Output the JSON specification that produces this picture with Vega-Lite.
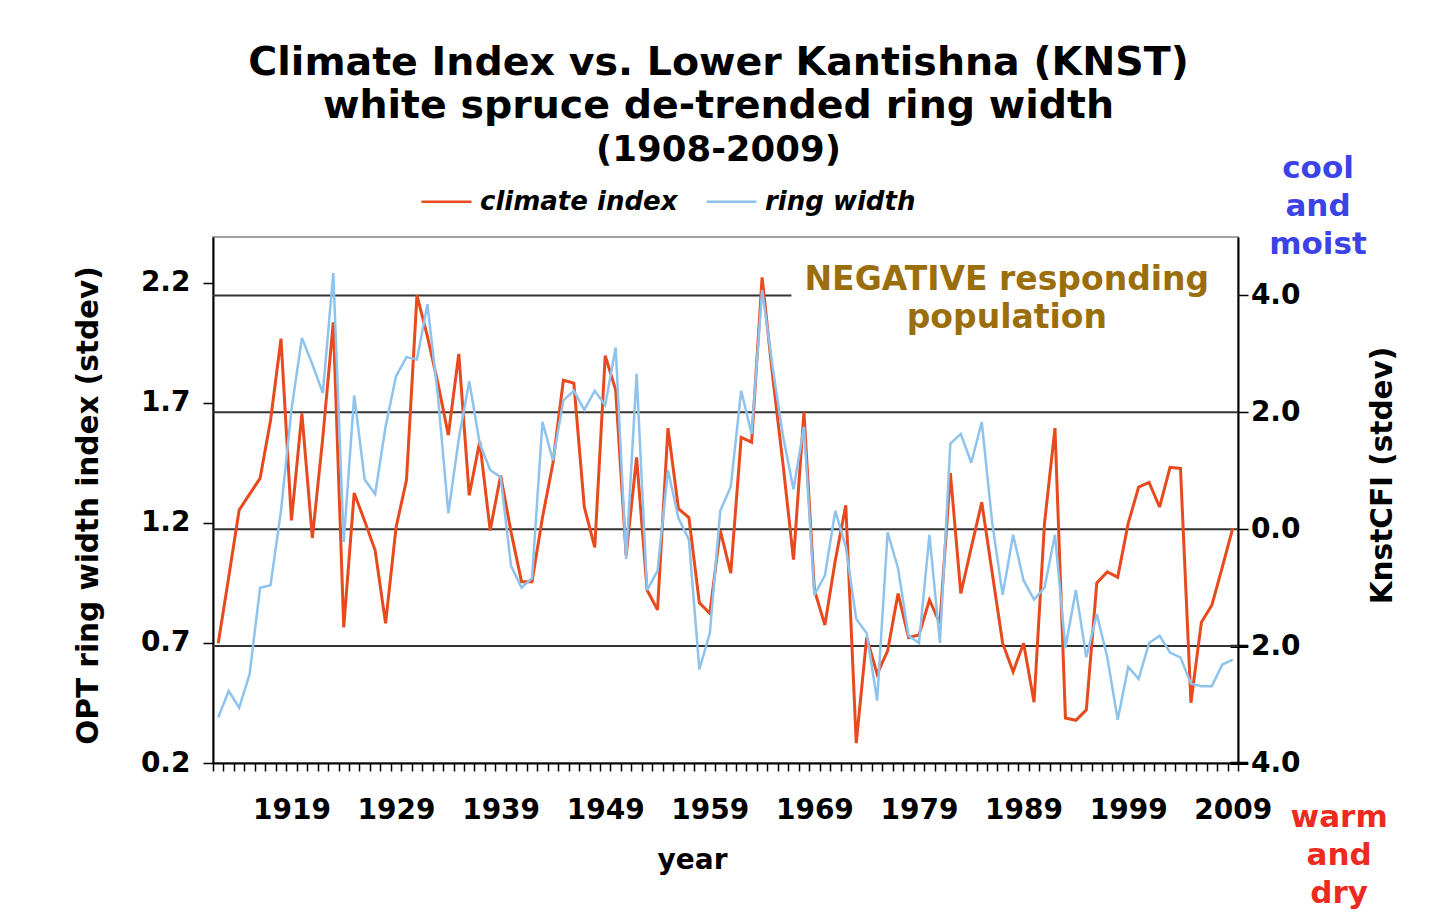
{
  "$schema": "https://vega.github.io/schema/vega-lite/v6.json",
  "width": 1025,
  "height": 526,
  "autosize": {"type": "none"},
  "padding": {"left": 213, "top": 237, "right": 214, "bottom": 160},
  "background": "white",
  "title": {
    "text": ["Climate Index vs. Lower Kantishna (KNST)", "white spruce de-trended ring width"],
    "subtitle": "(1908-2009)",
    "font": "DejaVu Sans",
    "fontSize": 39.5,
    "fontWeight": "bold",
    "lineHeight": 43,
    "color": "black",
    "subtitleFont": "DejaVu Sans",
    "subtitleFontSize": 35.5,
    "subtitleFontWeight": "bold",
    "subtitleColor": "black",
    "subtitlePadding": 7,
    "anchor": "middle",
    "dx": -7,
    "offset": -17
  },
  "config": {
    "view": {"stroke": "#a0a0a0", "strokeWidth": 2},
    "font": "DejaVu Sans",
    "axis": {
      "domainColor": "black",
      "domainWidth": 2,
      "tickColor": "black",
      "tickWidth": 1.5,
      "labelColor": "black",
      "titleColor": "black",
      "labelFont": "DejaVu Sans",
      "titleFont": "DejaVu Sans",
      "labelFontWeight": "bold",
      "titleFontWeight": "bold",
      "labelFontSize": 28,
      "titleFontSize": 29.5,
      "grid": false
    },
    "legend": {
      "labelFont": "DejaVu Sans",
      "labelFontSize": 26,
      "labelFontWeight": "bold",
      "labelFontStyle": "italic",
      "labelColor": "black",
      "labelLimit": 400
    }
  },
  "data": {
    "values": [
      {"year": 1912, "climate": -1.95, "ring": 0.39},
      {"year": 1913, "climate": -0.82, "ring": 0.50},
      {"year": 1914, "climate": 0.33, "ring": 0.43},
      {"year": 1915, "climate": 0.60, "ring": 0.57},
      {"year": 1916, "climate": 0.87, "ring": 0.93},
      {"year": 1917, "climate": 1.86, "ring": 0.94},
      {"year": 1918, "climate": 3.26, "ring": 1.25},
      {"year": 1919, "climate": 0.15, "ring": 1.67},
      {"year": 1920, "climate": 1.98, "ring": 1.97},
      {"year": 1921, "climate": -0.15, "ring": 1.86},
      {"year": 1922, "climate": 1.57, "ring": 1.74},
      {"year": 1923, "climate": 3.54, "ring": 2.24},
      {"year": 1924, "climate": -1.68, "ring": 1.12},
      {"year": 1925, "climate": 0.62, "ring": 1.73},
      {"year": 1926, "climate": 0.14, "ring": 1.38},
      {"year": 1927, "climate": -0.36, "ring": 1.32},
      {"year": 1928, "climate": -1.61, "ring": 1.60},
      {"year": 1929, "climate": 0.03, "ring": 1.81},
      {"year": 1930, "climate": 0.84, "ring": 1.89},
      {"year": 1931, "climate": 4.00, "ring": 1.88},
      {"year": 1932, "climate": 3.30, "ring": 2.11},
      {"year": 1933, "climate": 2.50, "ring": 1.73},
      {"year": 1934, "climate": 1.61, "ring": 1.24},
      {"year": 1935, "climate": 3.00, "ring": 1.55},
      {"year": 1936, "climate": 0.58, "ring": 1.79},
      {"year": 1937, "climate": 1.50, "ring": 1.53},
      {"year": 1938, "climate": -0.02, "ring": 1.42},
      {"year": 1939, "climate": 0.92, "ring": 1.39},
      {"year": 1940, "climate": -0.05, "ring": 1.02},
      {"year": 1941, "climate": -0.90, "ring": 0.93},
      {"year": 1942, "climate": -0.90, "ring": 0.97},
      {"year": 1943, "climate": 0.20, "ring": 1.62},
      {"year": 1944, "climate": 1.13, "ring": 1.46},
      {"year": 1945, "climate": 2.55, "ring": 1.71},
      {"year": 1946, "climate": 2.50, "ring": 1.75},
      {"year": 1947, "climate": 0.38, "ring": 1.67},
      {"year": 1948, "climate": -0.31, "ring": 1.75},
      {"year": 1949, "climate": 2.97, "ring": 1.69},
      {"year": 1950, "climate": 2.38, "ring": 1.93},
      {"year": 1951, "climate": -0.45, "ring": 1.05},
      {"year": 1952, "climate": 1.23, "ring": 1.82},
      {"year": 1953, "climate": -1.04, "ring": 0.92},
      {"year": 1954, "climate": -1.38, "ring": 1.00},
      {"year": 1955, "climate": 1.73, "ring": 1.42},
      {"year": 1956, "climate": 0.35, "ring": 1.22},
      {"year": 1957, "climate": 0.20, "ring": 1.13},
      {"year": 1958, "climate": -1.26, "ring": 0.59},
      {"year": 1959, "climate": -1.44, "ring": 0.74},
      {"year": 1960, "climate": -0.02, "ring": 1.25},
      {"year": 1961, "climate": -0.75, "ring": 1.35},
      {"year": 1962, "climate": 1.57, "ring": 1.75},
      {"year": 1963, "climate": 1.49, "ring": 1.57},
      {"year": 1964, "climate": 4.31, "ring": 2.17},
      {"year": 1965, "climate": 2.63, "ring": 1.85},
      {"year": 1966, "climate": 1.11, "ring": 1.56},
      {"year": 1967, "climate": -0.52, "ring": 1.34},
      {"year": 1968, "climate": 2.00, "ring": 1.60},
      {"year": 1969, "climate": -1.04, "ring": 0.90},
      {"year": 1970, "climate": -1.64, "ring": 0.98},
      {"year": 1971, "climate": -0.53, "ring": 1.25},
      {"year": 1972, "climate": 0.41, "ring": 1.10},
      {"year": 1973, "climate": -3.66, "ring": 0.80},
      {"year": 1974, "climate": -1.85, "ring": 0.74},
      {"year": 1975, "climate": -2.48, "ring": 0.46},
      {"year": 1976, "climate": -2.08, "ring": 1.16},
      {"year": 1977, "climate": -1.10, "ring": 1.01},
      {"year": 1978, "climate": -1.85, "ring": 0.73},
      {"year": 1979, "climate": -1.81, "ring": 0.70},
      {"year": 1980, "climate": -1.21, "ring": 1.15},
      {"year": 1981, "climate": -1.61, "ring": 0.70},
      {"year": 1982, "climate": 0.96, "ring": 1.53},
      {"year": 1983, "climate": -1.10, "ring": 1.57},
      {"year": 1984, "climate": -0.31, "ring": 1.45},
      {"year": 1985, "climate": 0.46, "ring": 1.62},
      {"year": 1986, "climate": -0.75, "ring": 1.20},
      {"year": 1987, "climate": -1.95, "ring": 0.90},
      {"year": 1988, "climate": -2.44, "ring": 1.15},
      {"year": 1989, "climate": -1.95, "ring": 0.96},
      {"year": 1990, "climate": -2.96, "ring": 0.88},
      {"year": 1991, "climate": 0.10, "ring": 0.93},
      {"year": 1992, "climate": 1.73, "ring": 1.15},
      {"year": 1993, "climate": -3.23, "ring": 0.68},
      {"year": 1994, "climate": -3.27, "ring": 0.92},
      {"year": 1995, "climate": -3.09, "ring": 0.64},
      {"year": 1996, "climate": -0.92, "ring": 0.82},
      {"year": 1997, "climate": -0.73, "ring": 0.64},
      {"year": 1998, "climate": -0.82, "ring": 0.38},
      {"year": 1999, "climate": 0.10, "ring": 0.60},
      {"year": 2000, "climate": 0.72, "ring": 0.55},
      {"year": 2001, "climate": 0.80, "ring": 0.70},
      {"year": 2002, "climate": 0.38, "ring": 0.73},
      {"year": 2003, "climate": 1.06, "ring": 0.66},
      {"year": 2004, "climate": 1.04, "ring": 0.64},
      {"year": 2005, "climate": -2.97, "ring": 0.53},
      {"year": 2006, "climate": -1.59, "ring": 0.52},
      {"year": 2007, "climate": -1.30, "ring": 0.52},
      {"year": 2008, "climate": -0.65, "ring": 0.61},
      {"year": 2009, "climate": 0.02, "ring": 0.63}
    ]
  },
  "layer": [
    {
      "data": {"values": [{}]},
      "mark": {"type": "rule", "color": "#333333", "strokeWidth": 2},
      "encoding": {
        "y": {"datum": 2, "type": "quantitative", "scale": {"domain": [-4, 5], "nice": false, "zero": false}, "axis": null}
      }
    },
    {
      "data": {"values": [{}]},
      "mark": {"type": "rule", "color": "#333333", "strokeWidth": 2},
      "encoding": {
        "y": {"datum": 0, "type": "quantitative", "scale": {"domain": [-4, 5], "nice": false, "zero": false}, "axis": null}
      }
    },
    {
      "data": {"values": [{}]},
      "mark": {"type": "rule", "color": "#333333", "strokeWidth": 2},
      "encoding": {
        "y": {"datum": -2, "type": "quantitative", "scale": {"domain": [-4, 5], "nice": false, "zero": false}, "axis": null}
      }
    },
    {
      "data": {"values": [{}]},
      "mark": {"type": "rule", "color": "#333333", "strokeWidth": 2},
      "encoding": {
        "x": {"datum": 1911.5, "type": "quantitative", "scale": {"domain": [1911.5, 2009.5], "nice": false, "zero": false}},
        "x2": {"datum": 1966.8},
        "y": {"datum": 4, "type": "quantitative", "scale": {"domain": [-4, 5], "nice": false, "zero": false}, "axis": null}
      }
    },
    {
      "mark": {"type": "line", "strokeWidth": 3, "strokeJoin": "miter", "strokeMiterLimit": 3},
      "encoding": {
        "x": {
          "field": "year",
          "type": "quantitative",
          "title": "year",
          "scale": {"domain": [1911.5, 2009.5], "nice": false, "zero": false},
          "axis": {
            "values": [1911.5,1912.5,1913.5,1914.5,1915.5,1916.5,1917.5,1918.5,1919.5,1920.5,1921.5,1922.5,1923.5,1924.5,1925.5,1926.5,1927.5,1928.5,1929.5,1930.5,1931.5,1932.5,1933.5,1934.5,1935.5,1936.5,1937.5,1938.5,1939.5,1940.5,1941.5,1942.5,1943.5,1944.5,1945.5,1946.5,1947.5,1948.5,1949.5,1950.5,1951.5,1952.5,1953.5,1954.5,1955.5,1956.5,1957.5,1958.5,1959.5,1960.5,1961.5,1962.5,1963.5,1964.5,1965.5,1966.5,1967.5,1968.5,1969.5,1970.5,1971.5,1972.5,1973.5,1974.5,1975.5,1976.5,1977.5,1978.5,1979.5,1980.5,1981.5,1982.5,1983.5,1984.5,1985.5,1986.5,1987.5,1988.5,1989.5,1990.5,1991.5,1992.5,1993.5,1994.5,1995.5,1996.5,1997.5,1998.5,1999.5,2000.5,2001.5,2002.5,2003.5,2004.5,2005.5,2006.5,2007.5,2008.5,2009.5],
            "tickCount": 200,
            "labelExpr": "(datum.value + 0.5 - 1909) % 10 == 0 ? '' + (datum.value + 0.5) : ''",
            "labelOffset": 5.22,
            "labelOverlap": false,
            "labelBound": false,
            "labelFlush": false,
            "labelPadding": 25,
            "tickSize": 8,
            "titleX": 479,
            "titleY": 97,
            "titleBaseline": "middle",
            "titleAlign": "center",
            "titleFontSize": 28
          }
        },
        "y": {
          "field": "climate",
          "type": "quantitative",
          "title": "KnstCFI (stdev)",
          "scale": {"domain": [-4, 5], "nice": false, "zero": false},
          "axis": {
            "orient": "right",
            "values": [-4, -2, 0, 2, 4],
            "format": ".1f",
            "tickSize": 10,
            "labelAlign": "right",
            "labelBaseline": "middle",
            "labelPadding": 52,
            "titleAngle": -90,
            "titleX": 144,
            "titleY": 238,
            "titleAlign": "center",
            "titleBaseline": "middle"
          }
        },
        "color": {
          "datum": "climate index",
          "type": "nominal",
          "scale": {"domain": ["climate index", "ring width"], "range": ["#e8491d", "#8ec3ee"]},
          "legend": {
            "title": null,
            "orient": "none",
            "direction": "horizontal",
            "legendX": 207,
            "legendY": -62,
            "symbolType": "stroke",
            "symbolSize": 2500,
            "symbolStrokeWidth": 2.5,
            "labelOffset": 7,
            "columnPadding": 23,
            "padding": 0
          }
        }
      }
    },
    {
      "mark": {"type": "line", "strokeWidth": 2.5, "strokeJoin": "miter", "strokeMiterLimit": 3},
      "encoding": {
        "x": {"field": "year", "type": "quantitative", "title": "year", "scale": {"domain": [1911.5, 2009.5], "nice": false, "zero": false}},
        "y": {
          "field": "ring",
          "type": "quantitative",
          "title": "OPT ring width index (stdev)",
          "scale": {"domain": [0.2, 2.39], "nice": false, "zero": false},
          "axis": {
            "orient": "left",
            "values": [0.2, 0.7, 1.2, 1.7, 2.2],
            "format": ".1f",
            "tickSize": 10,
            "labelPadding": 13,
            "labelBaseline": "middle",
            "titleX": -125,
            "titleY": 268,
            "titleAlign": "center",
            "titleBaseline": "middle"
          }
        },
        "color": {"datum": "ring width", "type": "nominal"}
      }
    },
    {
      "data": {"values": [{}]},
      "mark": {"type": "text", "text": ["NEGATIVE responding", "population"], "font": "DejaVu Sans", "fontWeight": "bold", "fontSize": 33, "lineHeight": 38, "color": "#9b6e0c", "align": "center", "baseline": "middle"},
      "encoding": {
        "x": {"datum": 1987.4, "type": "quantitative", "title": "year", "scale": {"domain": [1911.5, 2009.5], "nice": false, "zero": false}},
        "y": {"datum": 4.27, "type": "quantitative", "scale": {"domain": [-4, 5], "nice": false, "zero": false}, "axis": null}
      }
    },
    {
      "data": {"values": [{}]},
      "mark": {"type": "text", "text": ["cool", "and", "moist"], "font": "DejaVu Sans", "fontWeight": "bold", "fontSize": 31, "lineHeight": 38, "color": "#3b42e8", "align": "center", "baseline": "middle"},
      "encoding": {
        "x": {"datum": 2017.15, "type": "quantitative", "title": "year", "scale": {"domain": [1911.5, 2009.5], "nice": false, "zero": false}},
        "y": {"datum": 6.17, "type": "quantitative", "scale": {"domain": [-4, 5], "nice": false, "zero": false}, "axis": null}
      }
    },
    {
      "data": {"values": [{}]},
      "mark": {"type": "text", "text": ["warm", "and", "dry"], "font": "DejaVu Sans", "fontWeight": "bold", "fontSize": 31, "lineHeight": 38, "color": "#ec2a1e", "align": "center", "baseline": "middle"},
      "encoding": {
        "x": {"datum": 2019.17, "type": "quantitative", "title": "year", "scale": {"domain": [1911.5, 2009.5], "nice": false, "zero": false}},
        "y": {"datum": -4.94, "type": "quantitative", "scale": {"domain": [-4, 5], "nice": false, "zero": false}, "axis": null}
      }
    }
  ],
  "resolve": {"scale": {"y": "independent"}}
}
